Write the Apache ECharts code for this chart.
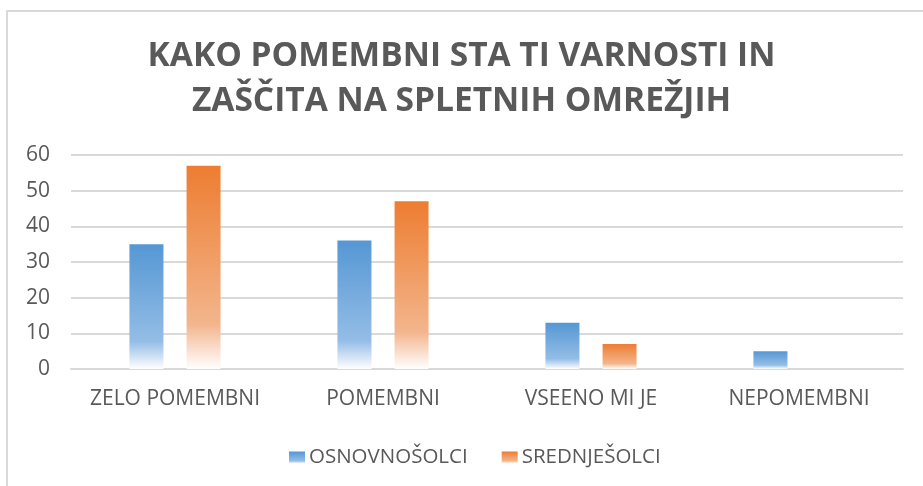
<!DOCTYPE html>
<html><head><meta charset="utf-8">
<script src="https://cdn.jsdelivr.net/npm/echarts@6/dist/echarts.min.js"></script>
<style>html,body{margin:0;padding:0;background:#fff}#c{width:923px;height:486px}</style>
</head><body><div id="c"></div>
<script>
const titleText = 'KAKO POMEMBNI STA TI VARNOSTI IN\nZAŠČITA NA SPLETNIH OMREŽJIH';
const categories = ['ZELO POMEMBNI', 'POMEMBNI', 'VSEENO MI JE', 'NEPOMEMBNI'];
const seriesNames = ['OSNOVNOŠOLCI', 'SREDNJEŠOLCI'];
const osnovnosolci = [35, 36, 13, 5];
const srednjesolci = [57, 47, 7, 0];
const yTicks = [0, 10, 20, 30, 40, 50, 60];

function grad(top, mid) {
  return new echarts.graphic.LinearGradient(0, 0, 0, 1, [
    {offset: 0, color: top},
    {offset: 0.78, color: mid},
    {offset: 1, color: '#ffffff'}
  ]);
}
const blue = grad('#5597d4', '#94bde6');
const orange = grad('#ed7d31', '#f3b58c');
const font = '"Open Sans", Lato, sans-serif';
const chart = echarts.init(document.getElementById('c'));
chart.setOption({
  animation: false,
  backgroundColor: '#fff',
  title: {
    text: titleText, left: 'center', top: 29,
    textStyle: {fontFamily: font, fontSize: 33.5, fontWeight: 'bold', color: '#595959', lineHeight: 45}
  },
  graphic: [
    {type: 'line', shape: {x1: 7, y1: 10, x2: 7, y2: 486}, style: {stroke: '#d9d9d9', lineWidth: 2}},
    {type: 'line', shape: {x1: 6, y1: 11, x2: 923, y2: 11}, style: {stroke: '#d9d9d9', lineWidth: 2}}
  ],
  legend: {
    top: 442, left: 284, itemWidth: 16, itemHeight: 12, itemGap: 34,
    icon: 'rect',
    textStyle: {fontFamily: font, fontSize: 20.5, color: '#595959', padding: [0, 0, 0, -1]},
    data: seriesNames
  },
  grid: {left: 71, right: 20, top: 155, bottom: 117},
  xAxis: {
    type: 'category', data: categories,
    axisLine: {lineStyle: {color: '#d9d9d9', width: 2}},
    axisTick: {show: false},
    axisLabel: {fontFamily: font, fontSize: 21, color: '#595959', margin: 20, interval: 0, hideOverlap: false}
  },
  yAxis: {
    type: 'value', min: yTicks[0], max: yTicks[yTicks.length - 1], interval: 10,
    axisLine: {show: false}, axisTick: {show: false},
    axisLabel: {fontFamily: font, fontSize: 21, color: '#595959', margin: 21},
    splitLine: {lineStyle: {color: '#d9d9d9', width: 2}}
  },
  series: [
    {name: seriesNames[0], type: 'bar', data: osnovnosolci, barWidth: 34, barGap: '68%', itemStyle: {color: blue}},
    {name: seriesNames[1], type: 'bar', data: srednjesolci, barWidth: 34, barGap: '68%', itemStyle: {color: orange}}
  ]
});
</script></body></html>
